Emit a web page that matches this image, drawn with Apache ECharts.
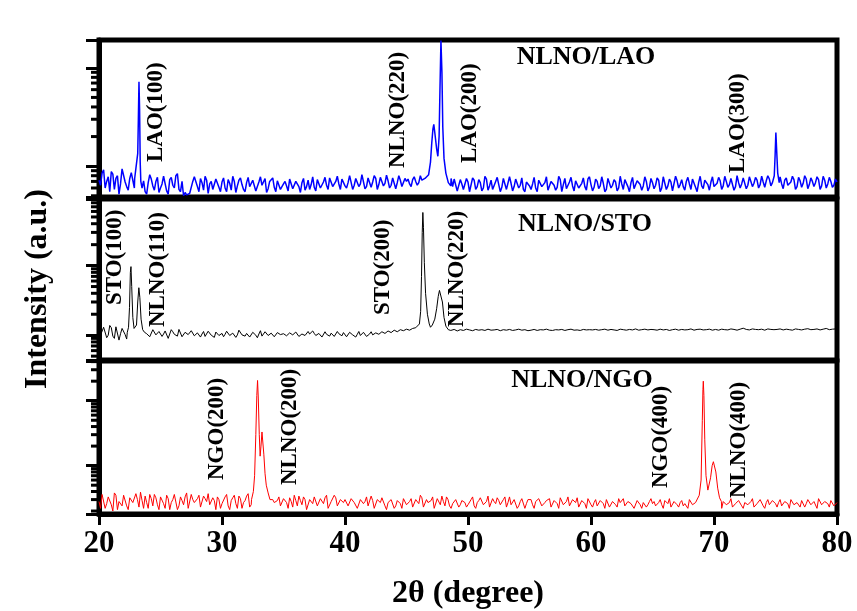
<!DOCTYPE html>
<html>
<head>
<meta charset="utf-8">
<script src="https://cdn.jsdelivr.net/npm/echarts@6/dist/echarts.min.js"></script>
<style>
  html, body { margin: 0; padding: 0; background: #fff; }
  #chart { width: 857px; height: 611px; }
</style>
</head>
<body>
<div id="chart"></div>
<script>
// XRD scans of NLNO films on three substrates, 2θ = 20°–80°.
// Background counts are listed on two interleaved 0.25° grids (x.000 and x.125 offsets).
const scanStart = 20;
const scanStep = 0.25;

// NLNO/LAO background counts (20.000° … 80.000°)
const laoBaseline = [
  72,85,60,78,88,58,80,66,90,62,75,84,70,70,62,55,68,74,57,77,60,
  79,56,73,64,80,58,70,54,51,52,78,62,75,57,72,66,58,74,61,69,
  60,73,57,70,63,76,58,68,62,72,56,69,64,75,59,67,61,71,58,66,
  63,74,59,70,62,68,57,72,65,61,73,60,69,64,76,62,70,66,74,63,
  68,77,64,72,66,79,62,73,69,75,65,78,67,71,64,74,68,72,63,70,
  66,73,70,68,72,75,80,120,250,130,1200,200,90,70,62,71,58,66,60,69,
  57,72,62,68,60,74,63,58,70,65,61,73,59,67,62,71,64,58,69,63,
  66,60,72,62,68,57,70,64,61,73,65,59,69,63,71,60,67,62,74,65,
  61,70,63,67,58,72,64,69,60,66,73,62,68,59,71,65,63,70,61,68,
  64,72,60,67,63,69,58,71,65,62,70,66,74,61,68,63,72,65,69,62,
  67,71,63,70,65,73,62,68,66,74,64,70,67,72,65,69,71,74,68,73,
  70,66,72,64,69,73,62,71,67,74,65,70,68,73,63,72,66,70,64,69
];
// NLNO/LAO background counts (20.125° … 79.875°)
const laoBaselineMid = [
  64,92,70,55,83,75,52,94,69,57,86,60,65,66,71,52,82,63,70,54,
  66,82,52,77,60,84,55,50,51,53,70,81,55,68,79,53,70,60,77,55,
  76,55,67,79,54,72,65,55,77,60,73,57,78,62,54,70,76,55,74,60,
  70,56,77,60,73,54,75,62,58,78,56,72,61,77,58,73,60,79,58,71,
  60,80,58,75,62,82,59,76,61,80,58,77,63,81,60,76,59,80,62,75,
  74,62,78,64,80,70,75,75,75,75,75,75,75,75,75,74,56,73,58,75,
  55,76,58,73,56,79,57,72,60,77,55,75,58,78,56,74,60,76,55,72,
  58,77,55,74,60,78,56,73,57,79,55,75,59,77,56,72,58,76,57,78,
  56,74,59,78,55,75,60,73,56,79,58,74,55,77,60,72,57,78,56,75,
  59,76,55,78,58,74,56,79,60,73,57,77,58,76,55,79,59,75,57,78,
  60,77,58,79,61,75,57,80,60,76,59,78,62,77,60,79,61,80,63,76,
  60,78,59,76,62,79,58,77,61,80,59,76,62,78,58,79,60,77,61,74
];
// NLNO/LAO reflections: LAO(100), NLNO(220)+LAO(200), LAO(300)
const laoPeaks = [
  [[22.9,75],[23.0,95],[23.1,120],[23.15,135],[23.2,300],[23.25,720],[23.3,380],[23.35,110],[23.4,70],[23.5,60]],
  [[46.6,74],[46.8,82],[46.95,110],[47.05,170],[47.15,240],[47.22,266],[47.3,220],[47.45,150],[47.55,126],
   [47.65,200],[47.72,600],[47.8,1900],[47.88,900],[47.95,250],[48.05,120],[48.2,85],[48.4,68],[48.6,63]],
  [[74.8,70],[74.9,80],[74.97,130],[75.03,220],[75.1,140],[75.18,85],[75.3,68]]
];

// NLNO/STO background counts (20.000° … 80.000°)
const stoBaseline = [
  120,95,135,100,128,90,140,105,118,88,125,110,115,118,120,110,112,100,122,96,115,
  104,118,92,112,100,121,95,110,102,116,98,108,94,113,101,107,97,111,99,106,
  103,112,96,109,101,115,98,106,94,110,100,104,97,112,99,107,95,109,102,105,
  98,108,101,111,96,104,99,113,102,106,95,109,100,103,97,110,101,105,98,104,
  100,107,97,103,99,110,96,104,101,108,103,112,106,115,109,118,112,120,116,122,
  118,125,128,132,140,300,600,300,140,130,200,454,200,125,118,120,114,118,116,119,
  117,121,115,119,118,122,116,120,117,121,115,119,118,122,117,120,116,121,118,119,
  120,116,121,118,122,117,119,121,116,120,118,123,117,121,119,116,122,118,120,117,
  121,118,120,123,117,119,122,118,121,117,120,124,118,121,119,122,117,120,123,119,
  118,122,120,117,121,119,123,118,120,122,117,121,119,123,120,118,122,119,121,124,
  120,123,119,121,118,122,120,124,121,128,119,122,120,123,118,121,124,120,122,119,
  123,120,122,118,121,124,119,122,120,125,121,118,123,120,124,121,119,123,121,124
];
// NLNO/STO background counts (20.125° … 79.875°)
const stoBaselineMid = [
  100,130,92,138,97,132,85,125,102,135,110,110,110,110,110,105,95,120,101,113,
  96,115,90,120,103,97,118,93,112,99,117,92,110,104,96,114,100,93,115,102,
  95,114,99,107,93,118,101,97,113,96,108,92,116,100,105,94,113,98,110,97,
  106,95,114,99,108,93,111,97,104,115,99,106,94,112,98,107,96,113,100,109,
  95,110,101,94,113,102,108,97,112,99,115,104,110,100,117,106,121,110,118,113,
  126,120,130,135,140,140,140,140,140,140,140,140,140,140,118,121,115,120,117,122,
  119,116,121,118,120,117,122,118,119,121,116,120,118,121,117,119,122,118,120,116,
  118,121,117,120,119,122,118,117,120,119,121,117,120,122,118,119,117,121,119,120,
  119,121,118,120,122,118,121,119,117,122,120,118,121,119,123,118,120,122,119,121,
  120,118,122,119,121,117,120,122,118,121,119,120,123,118,121,122,119,120,122,118,
  121,118,122,120,119,123,121,118,122,126,121,119,123,121,120,122,118,123,121,120,
  121,123,119,122,120,118,123,121,119,122,124,120,121,123,119,122,125,120,122,123
];
// NLNO/STO reflections: STO(100)+NLNO(110), STO(200)+NLNO(220)
const stoPeaks = [
  [[22.3,110],[22.4,130],[22.48,250],[22.55,800],[22.6,967],[22.66,500],[22.75,180],[22.85,125],[22.95,118],
   [23.05,140],[23.15,300],[23.24,481],[23.32,350],[23.42,170],[23.55,120],[23.7,110]],
  [[45.9,130],[46.05,145],[46.15,220],[46.22,700],[46.28,3000],[46.33,5800],[46.38,3500],[46.45,1100],
   [46.55,400],[46.7,200],[46.85,145],[46.95,130],[47.1,140],[47.3,170],[47.45,240],[47.58,360],
   [47.68,440],[47.75,454],[47.82,420],[47.92,300],[48.05,180],[48.2,135],[48.4,120],[48.6,117]]
];

// NLNO/NGO background counts (20.000° … 80.000°)
const ngoBaseline = [
  28,36,22,33,25,38,21,30,35,24,32,27,37,23,29,34,22,31,36,25,33,
  26,35,21,30,37,24,29,33,22,36,27,31,23,34,28,25,32,21,30,26,
  33,24,29,35,22,31,27,34,23,30,26,28,30,33,35,30,27,29,24,31,
  27,32,23,29,34,25,30,22,28,33,24,31,26,35,23,29,32,25,28,30,
  24,31,27,22,30,26,33,25,29,23,28,32,24,27,30,22,29,26,31,25,
  28,23,30,26,32,24,27,29,22,31,25,28,33,24,26,30,23,29,27,25,
  30,24,27,32,25,28,23,31,26,29,24,33,27,25,30,22,28,31,26,29,
  25,28,31,24,27,30,23,29,26,32,25,28,24,30,27,23,29,26,31,25,
  27,24,29,26,30,23,28,25,31,27,24,28,26,22,29,25,27,23,28,26,
  24,27,25,29,26,23,28,25,27,24,26,30,25,27,29,32,40,60,44,28,
  26,24,28,25,27,23,26,29,24,27,25,28,23,26,30,24,27,25,29,26,
  27,24,28,26,30,25,27,23,29,26,28,24,27,31,25,28,26,29,24,27
];
// NLNO/NGO background counts (20.125° … 79.875°)
const ngoBaselineMid = [
  22,38,26,31,20,35,28,24,37,21,34,26,30,39,22,27,36,24,32,21,
  34,22,31,27,36,21,33,25,38,23,30,26,35,22,31,37,24,29,33,22,
  27,36,21,32,26,34,22,29,37,25,30,30,30,30,30,30,30,27,33,23,
  31,22,28,35,24,29,33,21,30,26,34,23,29,32,22,28,35,24,30,27,
  29,23,33,26,21,31,28,24,34,22,30,27,33,21,28,31,24,29,22,32,
  24,31,22,28,35,23,30,26,33,21,29,34,24,30,22,27,32,25,31,23,
  26,33,22,29,31,24,34,22,28,32,25,30,23,33,26,28,24,31,22,30,
  30,22,27,33,23,29,31,24,28,22,31,26,33,23,29,32,24,28,22,30,
  23,30,25,28,22,31,24,29,23,27,31,24,29,26,23,30,22,28,25,31,
  28,23,30,22,28,31,24,27,23,29,26,22,30,25,30,30,30,30,30,30,
  30,30,22,29,24,31,23,27,30,22,28,25,31,23,26,29,22,30,24,28,
  23,30,25,28,22,31,24,27,29,23,30,25,28,22,31,26,29,23,30,25
];
// NLNO/NGO reflections: NGO(200)+NLNO(200), NGO(400)+NLNO(400)
const ngoPeaks = [
  [[32.4,30],[32.55,40],[32.65,70],[32.75,300],[32.83,1200],[32.89,2050],[32.95,1100],[33.03,300],[33.1,140],
   [33.17,200],[33.25,330],[33.32,310],[33.4,150],[33.5,75],[33.6,50],[33.75,38],[33.9,30]],
  [[68.6,28],[68.8,35],[68.95,60],[69.05,500],[69.1,1500],[69.13,2000],[69.18,1200],[69.25,250],[69.35,70],
   [69.5,42],[69.6,45],[69.72,65],[69.85,100],[69.95,115],[70.05,112],[70.15,80],[70.3,45],[70.45,32],[70.6,28]]
];

// Axis settings
const xMin = 20, xMax = 80, xInterval = 10;
const intensityRanges = [[48.6, 1918], [44, 9060], [18, 4090]];
const minorMultipliers = [2, 3, 4, 5, 6, 7, 8, 9];

const panelTitles = ['NLNO/LAO', 'NLNO/STO', 'NLNO/NGO'];
const peakNames = [
  ['LAO(100)', 'NLNO(220)', 'LAO(200)', 'LAO(300)'],
  ['STO(100)', 'NLNO(110)', 'STO(200)', 'NLNO(220)'],
  ['NGO(200)', 'NLNO(200)', 'NGO(400)', 'NLNO(400)']
];

// Merge both background grids with the finely sampled peak segments
function buildTrace(baseline, baselineMid, peaks) {
  const pts = baseline.map((v, i) => [scanStart + i * scanStep, v])
    .concat(baselineMid.map((v, i) => [scanStart + scanStep / 2 + i * scanStep, v]));
  const kept = pts.filter(p => !peaks.some(seg => p[0] >= seg[0][0] && p[0] <= seg[seg.length - 1][0]));
  peaks.forEach(seg => seg.forEach(p => kept.push(p)));
  kept.sort((a, b) => a[0] - b[0]);
  return kept;
}

// Logarithmic minor tick values (2…9 × 10^n) inside an axis range
function minorTickValues(range) {
  const out = [];
  for (let e = Math.floor(Math.log10(range[0])); e <= Math.ceil(Math.log10(range[1])); e++) {
    minorMultipliers.forEach(m => {
      const v = m * Math.pow(10, e);
      if (v >= range[0] && v <= range[1]) out.push([xMin, v]);
    });
  }
  return out;
}

const serif = '"Liberation Serif", "Times New Roman", serif';
const gridBoxes = [
  { top: 40, height: 157 },
  { top: 199, height: 161 },
  { top: 361, height: 157 }
];
const traces = [
  { data: buildTrace(laoBaseline, laoBaselineMid, laoPeaks), color: '#0000ff', width: 1.5 },
  { data: buildTrace(stoBaseline, stoBaselineMid, stoPeaks), color: '#000000', width: 1 },
  { data: buildTrace(ngoBaseline, ngoBaselineMid, ngoPeaks), color: '#ff0000', width: 1 }
];

const grid = gridBoxes.map(g => ({
  left: 99, width: 738, top: g.top, height: g.height,
  show: true, borderColor: '#000', borderWidth: 5, backgroundColor: 'transparent'
}));

const xAxis = gridBoxes.map((g, i) => {
  const isBottom = i === gridBoxes.length - 1;
  return {
    type: 'value', gridIndex: i, min: xMin, max: xMax, interval: xInterval,
    axisLine: { show: isBottom, lineStyle: { color: '#000', width: 5 } },
    axisTick: { show: isBottom, inside: false, length: 11, lineStyle: { color: '#000', width: 3 } },
    axisLabel: {
      show: isBottom, color: '#000', fontFamily: serif, fontWeight: 'bold', fontSize: 31, margin: 14
    },
    splitLine: { show: false },
    name: isBottom ? '2θ (degree)' : '',
    nameLocation: 'middle', nameGap: 64,
    nameTextStyle: { color: '#000', fontFamily: serif, fontWeight: 'bold', fontSize: 32 }
  };
});

const yAxis = intensityRanges.map((r, i) => ({
  type: 'log', logBase: 10, gridIndex: i, min: r[0], max: r[1],
  axisLine: { show: true, lineStyle: { color: '#000', width: 5 } },
  axisTick: { show: true, inside: false, length: 13, lineStyle: { color: '#000', width: 3 } },
  axisLabel: { show: false },
  splitLine: { show: false },
  minorTick: { show: false }
}));

const series = [];
traces.forEach((t, i) => {
  series.push({
    type: 'line', xAxisIndex: i, yAxisIndex: i, data: t.data,
    showSymbol: false, symbol: 'none', animation: false, sampling: null,
    lineStyle: { color: t.color, width: t.width }
  });
  series.push({
    type: 'custom', xAxisIndex: i, yAxisIndex: i, clip: false, silent: true, animation: false,
    data: minorTickValues(intensityRanges[i]),
    renderItem: (params, api) => {
      const p = api.coord([api.value(0), api.value(1)]);
      return {
        type: 'line',
        shape: { x1: p[0] - 8, y1: p[1], x2: p[0], y2: p[1] },
        style: { stroke: '#000', lineWidth: 3 }
      };
    }
  });
});

// Annotation placement (pixels)
const titleSpots = [[586, 57], [585, 224], [582, 380]];
const peakLabelSpots = [
  [[156, 162], [398, 168], [470, 163], [738, 173]],
  [[115, 305], [158, 327], [383, 315], [457, 327]],
  [[217, 480], [290, 485], [661, 488], [739, 498]]
];

const graphic = [];
panelTitles.forEach((t, i) => {
  graphic.push({
    type: 'text', x: titleSpots[i][0], y: titleSpots[i][1], z: 100,
    style: { text: t, fill: '#000', font: 'bold 26px ' + serif, align: 'center', verticalAlign: 'middle' }
  });
});
peakNames.forEach((names, i) => {
  names.forEach((n, j) => {
    graphic.push({
      type: 'text', x: peakLabelSpots[i][j][0], y: peakLabelSpots[i][j][1], rotation: Math.PI / 2, z: 100,
      style: { text: n, fill: '#000', font: 'bold 23px ' + serif, align: 'left', verticalAlign: 'middle' }
    });
  });
});
graphic.push({
  type: 'text', x: 38, y: 289, rotation: Math.PI / 2, z: 100,
  style: { text: 'Intensity (a.u.)', fill: '#000', font: 'bold 32px ' + serif, align: 'center', verticalAlign: 'middle' }
});

const chart = echarts.init(document.getElementById('chart'), null, { renderer: 'canvas' });
chart.setOption({
  backgroundColor: '#ffffff',
  animation: false,
  grid, xAxis, yAxis, series, graphic
});
</script>
</body>
</html>
